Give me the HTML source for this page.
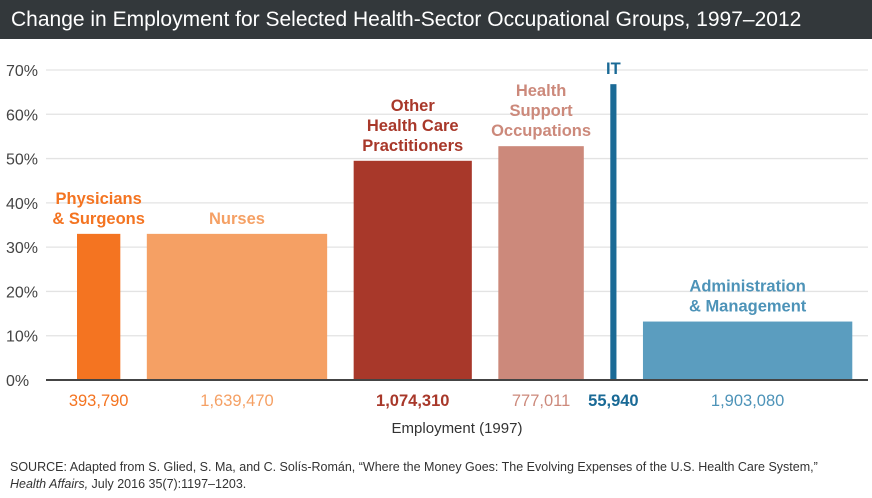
<!DOCTYPE html>
<html><head><meta charset="utf-8"><style>
body{margin:0;width:872px;height:498px;background:#fff;font-family:"Liberation Sans",sans-serif;overflow:hidden;position:relative}
#title{position:absolute;left:0;top:0;width:872px;height:39px;background:#33383b;color:#fff;font-size:21px;line-height:39px;padding-left:11px;box-sizing:border-box}
svg{position:absolute;left:0;top:0}
#src{position:absolute;left:10px;top:459px;font-size:12.5px;color:#333;line-height:17px}
</style></head><body>
<div id="title">Change in Employment for Selected Health-Sector Occupational Groups, 1997–2012</div>
<svg id="c" width="872" height="498"></svg>
<div id="src">SOURCE: Adapted from S. Glied, S. Ma, and C. Solís-Román, “Where the Money Goes: The Evolving Expenses of the U.S. Health Care System,”<br><i>Health Affairs,</i> July 2016 35(7):1197–1203.</div>
<script>
const categories=[["Physicians","& Surgeons"],["Nurses"],["Other","Health Care","Practitioners"],["Health","Support","Occupations"],["IT"],["Administration","& Management"]];
const employment=[393790,1639470,1074310,777011,55940,1903080];
const employmentLabels=["393,790","1,639,470","1,074,310","777,011","55,940","1,903,080"];
const changePct=[33,33,49.5,52.8,66.8,13.2];
const ticks=[0,10,20,30,40,50,60,70];
const colors=["#f47421","#f5a064","#a8382a","#cc897b","#1a6a96","#5b9dbf"];
const labelColors=["#f47421","#f5a064","#a8382a","#cc897b","#1a6a96","#4d93b8"];
const ns="http://www.w3.org/2000/svg",svg=document.getElementById('c');
const y=v=>380-v*310/70, w=e=>e*0.00011;
function mk(t,a,txt){const e=document.createElementNS(ns,t);for(const k in a)e.setAttribute(k,a[k]);if(txt!=null)e.textContent=txt;svg.appendChild(e);return e;}
ticks.forEach(t=>{
 const l=mk('line',{x1:46,x2:868,y1:y(t),y2:y(t),stroke:'#e3e3e3','stroke-width':1.3});
 
 
 const tx=mk('text',{x:6,y:y(t)+6,'font-size':16,fill:'#444'},t+'%');
 
 
});
let x=77;
employment.forEach((e,i)=>{
 const bw=w(e),top=y(changePct[i]),cx=x+bw/2;
 const r=mk('rect',{x:x,y:top,width:bw,height:380-top,fill:colors[i]});
 
 
 const lines=categories[i],n=lines.length;
 lines.forEach((s,j)=>{
  const t=mk('text',{x:cx,y:top-10-(n-1-j)*20,'font-size':16.5,'font-weight':'bold',fill:labelColors[i],'text-anchor':'middle'},s);
  
  
 });
 const el=mk('text',{x:cx,y:406,'font-size':16.5,fill:labelColors[i],'text-anchor':'middle','font-weight':i==2||i==4?'bold':'normal'},employmentLabels[i]);
 
 
 x+=bw+26.5;
});
const b=mk('line',{x1:46,x2:868,y1:380,y2:380,stroke:'#444','stroke-width':2});


const xt=mk('text',{x:457,y:433,'font-size':15,fill:'#333','text-anchor':'middle'},'Employment (1997)');


</script>
</body></html>
